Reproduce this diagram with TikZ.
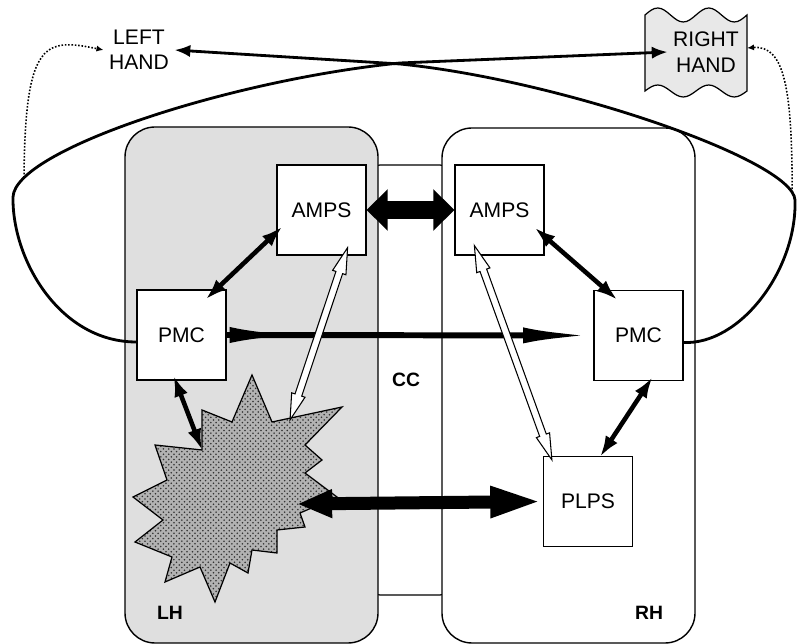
\documentclass[tikz,border=0pt]{standalone}
\usepackage{fontspec}
\setmainfont{Liberation Sans}
\usetikzlibrary{arrows.meta,calc,patterns,shapes.arrows,decorations.markings}
\tikzset{area/.style={draw,line width=0.8pt,rounded corners=0.6cm}}
\tikzset{region/.style={draw,fill=white,line width=0.7pt,minimum width=1.78cm,minimum height=1.8cm,font=\fontsize{12}{14}\selectfont}}
\tikzset{side/.style={font=\bfseries\fontsize{11}{13}\selectfont}}
\tikzset{hand/.style={align=center,inner sep=3pt,font=\fontsize{12}{14.5}\selectfont}}
\tikzset{link/.style={line width=2.6pt,{Latex[length=12pt,width=8pt]}-{Latex[length=12pt,width=8pt]}}}
\tikzset{hollow/.style={double arrow,draw,fill=white,line width=0.6pt,inner sep=1.7pt,double arrow head extend=2pt,double arrow tip angle=30}}
\tikzset{crossing/.style={line width=1.6pt,-{Latex[length=9pt,width=7pt]}}}
\tikzset{feedback/.style={densely dotted,line width=0.9pt,-{Latex[length=4pt,width=3.5pt]}}}

\begin{document}
\begin{tikzpicture}[x=0.02cm,y=-0.02cm]
\useasboundingbox (0,0) rectangle (798,644);

% hemispheres and callosum
\draw[line width=0.7pt,fill=white,rounded corners=0.2cm] (370,165) rectangle (450,595);
\draw[area,fill=gray!25] (125,127) rectangle (378,643);
\draw[area,fill=white] (442,128) rectangle (695,643);

% lesion
\path[fill=gray!60,postaction={pattern=crosshatch dots,pattern color=black!80}]
  (252,375) -- (272,422) -- (342,407) -- (305,445) -- (322,460) -- (305,473)
  -- (337,497) -- (300,513) -- (305,527) -- (277,530) -- (277,553) -- (252,550)
  -- (248,573) -- (230,563) -- (215,602) -- (200,567) -- (165,582) -- (172,557)
  -- (135,542) -- (163,520) -- (133,497) -- (167,480) -- (155,445) -- (202,450)
  -- (202,410) -- (232,422) -- cycle;
\draw[line width=0.7pt]
  (252,375) -- (272,422) -- (342,407) -- (305,445) -- (322,460) -- (305,473)
  -- (337,497) -- (300,513) -- (305,527) -- (277,530) -- (277,553) -- (252,550)
  -- (248,573) -- (230,563) -- (215,602) -- (200,567) -- (165,582) -- (172,557)
  -- (135,542) -- (163,520) -- (133,497) -- (167,480) -- (155,445) -- (202,450)
  -- (202,410) -- (232,422) -- cycle;
\coordinate (starA) at (202,450);
\coordinate (starB) at (297,504);
\coordinate (starC) at (290,420);

% hands
\draw[line width=0.7pt,fill=gray!18] (645,15) sin (657.75,8) cos (670.5,15) sin (683.25,22) cos (696,15)
  sin (708.75,8) cos (721.5,15) sin (734.25,22) cos (747,15) -- (747,91)
  sin (734.25,97) cos (721.5,91) sin (708.75,85) cos (696,91) sin (683.25,97)
  cos (670.5,91) sin (657.75,85) cos (645,91) -- cycle;
\node[hand] (rhand) at (706,52) {RIGHT\\HAND};
\coordinate (rhedge) at (747,48);
\node[hand] (lhand) at (139,50) {LEFT\\HAND};

% areas
\node[region] (AMPSL) at (321.5,210) {AMPS};
\node[region] (AMPSR) at (499.5,210) {AMPS};
\node[region] (PMCL) at (181.5,335) {PMC};
\node[region] (PMCR) at (638.5,335.5) {PMC};
\node[region] (PLPS) at (588,501.5) {PLPS};

\node[side] (LH) at (170,613) {LH};
\node[side] (RH) at (649,613) {RH};
\node[side] (CC) at (406,380) {CC};

% connections
\draw[line width=10pt,{Triangle[width=23pt,length=12pt]}-{Triangle[width=23pt,length=12pt]}] (AMPSL.east) -- (AMPSR.west);
\draw[line width=3.4pt,-{Latex[length=40pt,width=9pt]},
  postaction={decorate,decoration={markings,mark=at position 0.2 with {\arrow{Latex[length=40pt,width=9pt]}}}}]
  (PMCL.east) -- (PMCR.west);
\draw[line width=7.4pt,{Triangle[width=15pt,length=20pt]}-{Triangle[width=16pt,length=30pt]}] (starB) -- (PLPS.west);
\draw[link] ([shift={(-21,10)}]PMCL.north east) -- ([shift={(6,-29)}]AMPSL.south west);
\draw[link] ([shift={(-10,-28)}]AMPSR.south east) -- ([shift={(24,10)}]PMCR.north west);
\draw[link] ([shift={(14,-4)}]PMCR.south) -- ([shift={(12,1)}]PLPS.north);
\draw[link] (starA) -- ([shift={(-8,-5)}]PMCL.south);

\path let \p1=([shift={(-19,-8)}]AMPSL.south east), \p2=(starC),
  \n1={atan2(\y2-\y1,\x2-\x1)}, \n2={veclen(\x2-\x1,\y2-\y1)} in
  node[hollow,minimum height=\n2,rotate=\n1] (hollowL) at ($(\p1)!0.5!(\p2)$) {};
\path let \p1=([shift={(20,-10)}]AMPSR.south west), \p2=([shift={(9,4)}]PLPS.north west),
  \n1={atan2(\y2-\y1,\x2-\x1)}, \n2={veclen(\x2-\x1,\y2-\y1)} in
  node[hollow,minimum height=\n2,rotate=\n1] (hollowR) at ($(\p1)!0.5!(\p2)$) {};

% crossed pathways to the hands
\draw[crossing] ([shift={(0,7)}]PMCL.west) .. controls (60,342) and (12,260) .. (13,197)
  .. controls (15,150) and (230,80) .. (400,63) coordinate[pos=0.13] (dotL) -- (rhand.west);
\draw[crossing] ([shift={(0,7)}]PMCR.east) .. controls (740,345) and (797,270) .. (795,200)
  .. controls (793,160) and (560,80) .. (400,64) coordinate[pos=0.06] (dotR) -- (lhand.east);
\draw[feedback] (dotL) .. controls (25,40) and (45,38) .. (lhand.west);
\draw[feedback] (dotR) .. controls (792,90) and (785,45) .. (rhedge);
\end{tikzpicture}
\end{document}
